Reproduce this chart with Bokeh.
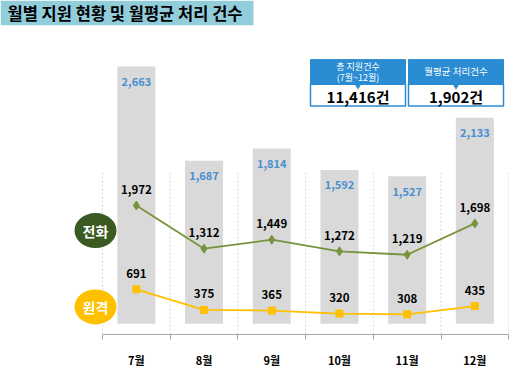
from bokeh.plotting import figure
from bokeh.models import Range1d, FixedTicker
from bokeh.core.properties import value
from bokeh.embed import file_html
from bokeh.resources import INLINE

# ---------------- data ----------------
months = ["7월", "8월", "9월", "10월", "11월", "12월"]
total = [2663, 1687, 1814, 1592, 1527, 2133]
phone = [1972, 1312, 1449, 1272, 1219, 1698]
remote = [691, 375, 365, 320, 308, 435]
grid_top = 2500
title_text = "월별 지원 현황 및 월평균 처리 건수"
sum_head1 = ["총 지원건수", "(7월~12월)"]
sum_head2 = ["월평균 처리건수"]
sum_total = 11416
sum_avg = 1902

FONT = "Noto Sans CJK KR"

# ---------------- geometry helpers (plot px -> data) ----------------
W, H = 509, 370
CAT_PX = 67.7
X0_PAGE = 102.0
LINE_PX = 0.0664     # px per unit (line series)
BAR_PX = 0.09801     # px per unit (bars)
FRAME_TOP_PAGE, FRAME_BOT_PAGE = 0.0, 339.0
frame_h = FRAME_BOT_PAGE - FRAME_TOP_PAGE

def X(px):
    return (px - X0_PAGE) / CAT_PX

def Y(py):
    return (FRAME_BOT_PAGE - py) / LINE_PX

bar_start = -11.0 / BAR_PX
bar_end = bar_start + frame_h / BAR_PX

n = len(months)
centers = [i + 0.5 for i in range(n)]
bounds = [float(i) for i in range(n + 1)]

p = figure(width=W, height=H, output_backend="svg", toolbar_location=None,
           x_range=Range1d(X(0), X(W)), y_range=Range1d(0, frame_h / LINE_PX),
           y_axis_location=None, min_border_left=0, min_border_right=0,
           min_border_top=0, min_border_bottom=int(H - FRAME_BOT_PAGE))
p.extra_y_ranges = {"bars": Range1d(bar_start, bar_end)}
p.outline_line_color = None
p.xgrid.grid_line_color = None
p.ygrid.grid_line_color = None
p.background_fill_color = "white"

# dashed vertical grid at category boundaries
p.segment(x0=bounds, y0=[0] * len(bounds), x1=bounds, y1=[grid_top] * len(bounds),
          line_color="#D9D9D9", line_width=1, line_dash="2 2")

# bars
p.vbar(x=centers, top=total, bottom=0, width=38 / CAT_PX, y_range_name="bars",
       fill_color="#D9D9D9", line_color=None)
p.text(x=centers, y=total, text=[f"{v:,}" for v in total], y_range_name="bars",
       y_offset=15, text_align="center", text_baseline="middle",
       text_font=value(FONT), text_font_size="11px", text_font_style="bold",
       text_color="#4A8FD0")

# lines
p.line(centers, phone, line_color="#77933C", line_width=1.8)
p.scatter(centers, phone, marker="diamond", size=9, fill_color="#77933C", line_color="#77933C")
p.line(centers, remote, line_color="#FFC000", line_width=1.8)
p.scatter(centers, remote, marker="square", size=7, fill_color="#FFC000", line_color="#FFC000")
for vals in (phone, remote):
    p.text(x=centers, y=vals, text=[f"{v:,}" for v in vals], y_offset=-16,
           text_align="center", text_baseline="middle",
           text_font=value(FONT), text_font_size="11.5px", text_font_style="bold",
           text_color="black")

# series badges
p.ellipse(x=[X(95), X(95)], y=[Y(233.5), Y(311)], width=42, height=35,
          width_units="screen", height_units="screen",
          fill_color=["#3B5A22", "#FFC000"], line_color=None)
p.text(x=[X(95), X(95)], y=[Y(233.5), Y(311)], text=["전화", "원격"],
       text_align="center", text_baseline="middle", text_font=value(FONT),
       text_font_size="14px", text_font_style="bold", text_color="white")

# title
p.quad(left=[X(0)], right=[X(253)], top=[Y(0)], bottom=[Y(25)],
       fill_color="#92CDDC", line_color=None)
p.text(x=[X(7)], y=[Y(13)], text=[title_text], text_align="left",
       text_baseline="middle", text_font=value(FONT), text_font_size="16.5px",
       text_font_style="bold", text_color="black")

# summary boxes
HEAD_BLUE = "#2A8CD2"
for (l, r) in [(310, 405), (408, 503)]:
    p.quad(left=[X(l)], right=[X(r)], top=[Y(60)], bottom=[Y(85)],
           fill_color=HEAD_BLUE, line_color=HEAD_BLUE)
    p.quad(left=[X(l)], right=[X(r)], top=[Y(85)], bottom=[Y(107)],
           fill_color="white", line_color=HEAD_BLUE, line_width=1.5)
    p.scatter(x=[X((l + r) / 2)], y=[Y(86.5)], marker="inverted_triangle", size=7,
              fill_color=HEAD_BLUE, line_color=None)

p.text(x=[X(357.5), X(357.5)], y=[Y(67), Y(78)], text=sum_head1,
       text_align="center", text_baseline="middle", text_font=value(FONT),
       text_font_size="9px", text_color="white")
p.text(x=[X(455.5)], y=[Y(72)], text=sum_head2,
       text_align="center", text_baseline="middle", text_font=value(FONT),
       text_font_size="9.5px", text_color="white")
p.text(x=[X(357.5), X(455.5)], y=[Y(97), Y(97)],
       text=[f"{sum_total:,}건", f"{sum_avg:,}건"],
       text_align="center", text_baseline="middle", text_font=value(FONT),
       text_font_size="15px", text_font_style="bold", text_color="black")

# x axis
ax = p.xaxis[0]
ax.ticker = FixedTicker(ticks=centers, minor_ticks=bounds)
ax.major_label_overrides = {c: m for c, m in zip(centers, months)}
ax.bounds = (0, n)
ax.axis_line_color = "#A6A6A6"
ax.major_tick_line_color = None
ax.minor_tick_line_color = "#A6A6A6"
ax.minor_tick_in = 0
ax.minor_tick_out = 5
ax.major_label_standoff = 11
ax.major_label_text_font = FONT
ax.major_label_text_font_size = "11px"
ax.major_label_text_font_style = "bold"
ax.major_label_text_color = "black"

open("out.html", "w").write(file_html(p, INLINE))
